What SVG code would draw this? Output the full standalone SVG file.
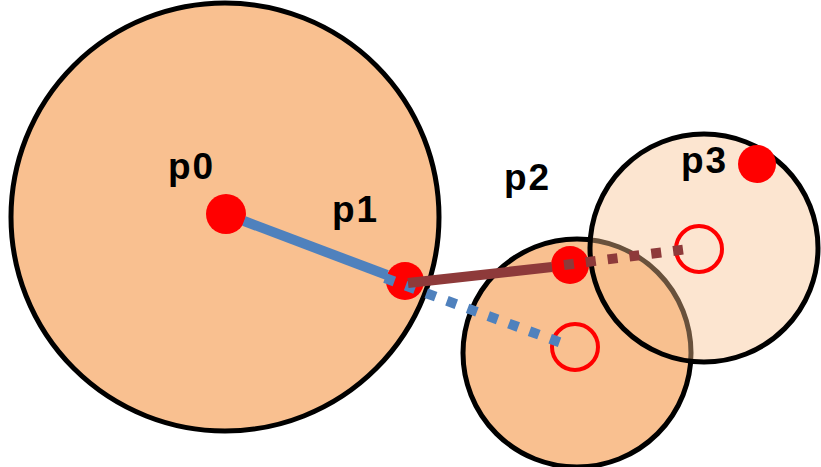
<svg xmlns="http://www.w3.org/2000/svg" width="821" height="467" viewBox="0 0 821 467">
<style>
.disc{fill:#F9C090;stroke:#000;stroke-width:5}
.light{fill:#F9C090;fill-opacity:0.42;stroke:#000;stroke-width:5}
.dot{fill:#FF0000}
.ring{fill:none;stroke:#FF0000;stroke-width:4}
.lbl{font-family:"Liberation Sans",Arial,sans-serif;font-weight:bold;font-size:37px;fill:#000;letter-spacing:2px}
.blue{stroke:#4F81BD;stroke-width:10;fill:none}
.brown{stroke:#8E3A3A;stroke-width:10;fill:none}
.dash{stroke-dasharray:10 12}
</style>
<g id="circle-big"><circle class="disc" cx="225" cy="217" r="214"/></g>
<g id="circle-mid"><circle class="disc" cx="577" cy="353" r="114"/></g>
<g id="circle-top"><circle class="light" cx="704" cy="248" r="114"/></g>
<g id="ring-mid"><circle class="ring" cx="575" cy="347" r="23"/></g>
<g id="ring-top"><circle class="ring" cx="699" cy="249" r="23"/></g>
<g id="p0"><circle class="dot" cx="226" cy="214" r="20"/><text class="lbl" x="168" y="179">p0</text></g>
<g id="p1"><circle class="dot" cx="405" cy="281" r="19"/><text class="lbl" x="332" y="222">p1</text></g>
<g id="p2"><circle class="dot" cx="570" cy="265" r="19"/><text class="lbl" x="504" y="190">p2</text></g>
<g id="p3"><circle class="dot" cx="757" cy="164" r="19"/><text class="lbl" x="681" y="173">p3</text></g>
<g id="connectors">
<line class="blue" x1="244" y1="221" x2="387" y2="275"/>
<line class="blue dash" x1="385" y1="278" x2="567" y2="345"/>
<line class="brown" x1="408" y1="283" x2="552" y2="267"/>
<line class="brown dash" x1="564" y1="265" x2="688" y2="249"/>
</g>
</svg>
